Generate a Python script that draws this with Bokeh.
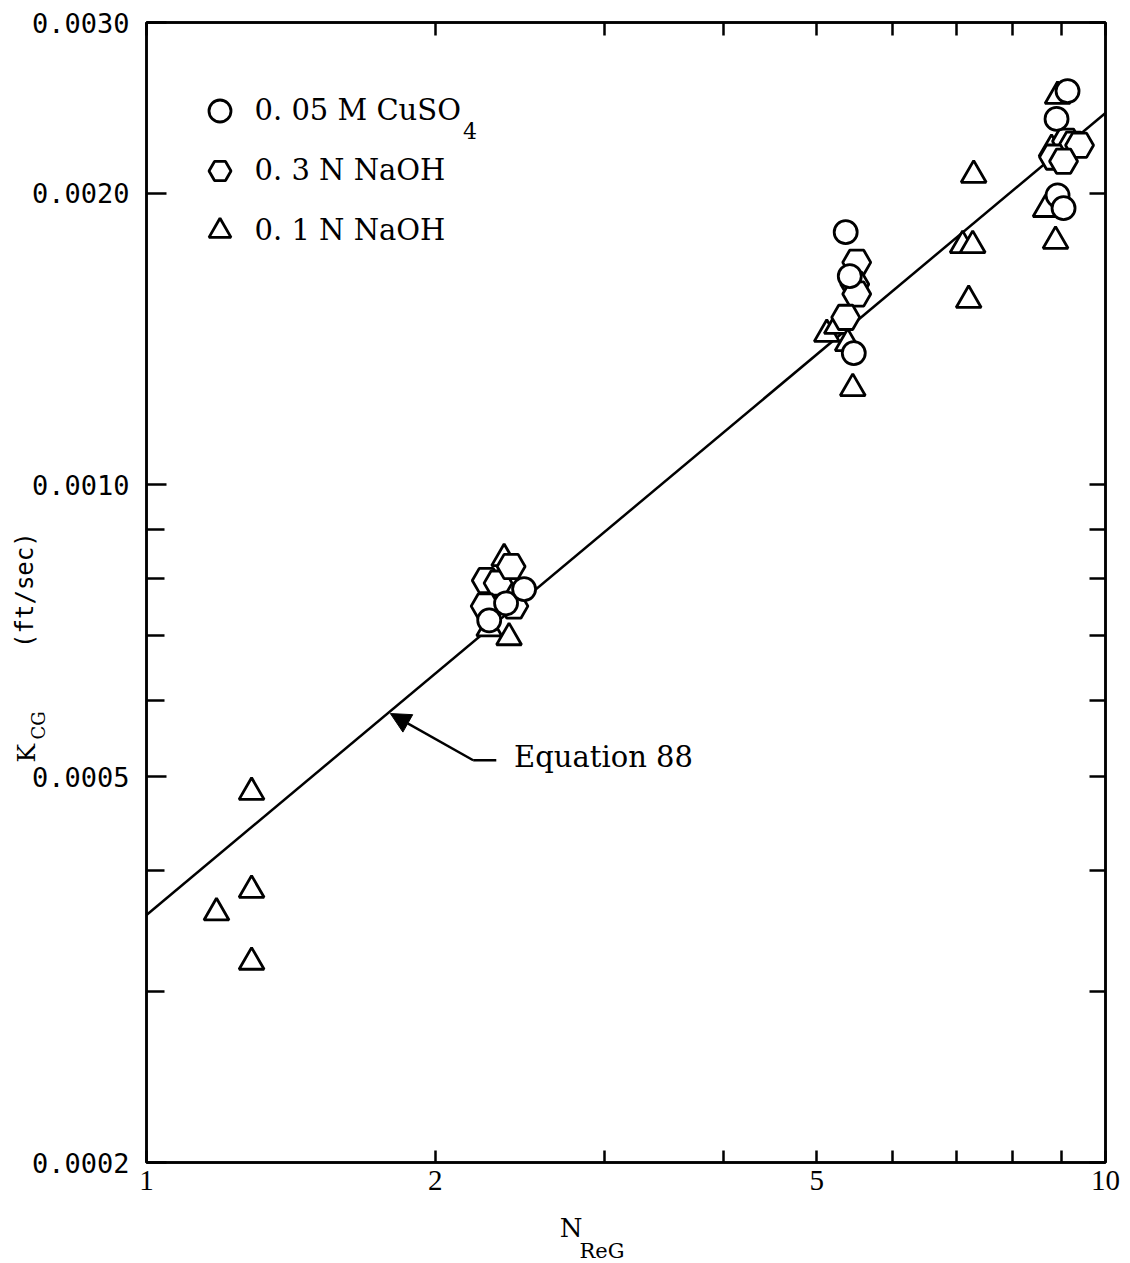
import math
from bokeh.plotting import figure
from bokeh.models import (FixedTicker, PrintfTickFormatter, LogAxis, CustomJSTickFormatter,
                          Label, Arrow, NormalHead, Legend, LegendItem, Range1d)
from bokeh.embed import file_html
from bokeh.resources import INLINE

# ---------------- data ----------------
# 0.05 M CuSO4 (circles)
cuso4_x = [2.277, 2.371, 2.476, 5.359, 5.412, 5.464, 8.891, 9.129, 8.913, 9.042]
cuso4_y = [0.000725, 0.000755, 0.000781, 0.001823, 0.001642, 0.001368,
           0.002386, 0.002549, 0.001990, 0.001930]

# 0.3 N NaOH (hexagons)
naoh03_x = [2.261, 2.326, 2.255, 2.416, 2.400, 5.503, 5.477, 5.503, 5.359,
            9.107, 9.262, 9.396, 8.827, 9.042]
naoh03_y = [0.000797, 0.000792, 0.000750, 0.000750, 0.000824, 0.001697, 0.001611,
            0.001574, 0.001489, 0.002263, 0.002247, 0.002241, 0.002179, 0.002158]

# 0.1 N NaOH (triangles)
naoh01_x = [1.183, 1.287, 1.287, 1.287, 2.360, 2.277, 2.388, 5.121, 5.246, 5.385,
            5.451, 7.287, 7.096, 7.270, 7.200, 8.913, 8.785, 8.660, 8.870]
naoh01_y = [0.000362, 0.000482, 0.000382, 0.000322, 0.000840, 0.000711, 0.000696,
            0.001431, 0.001458, 0.001400, 0.001258, 0.002088, 0.001767, 0.001767,
            0.001551, 0.002518, 0.002221, 0.001925, 0.001785]

# Equation 88 (fitted line)
eq88_x = [1.0, 10.0]
eq88_y = [0.000360, 0.00242]

# ticks
x_ticks = [1, 2, 5, 10]
x_minor = [3, 4, 6, 7, 8, 9]
y_ticks = [0.0002, 0.0005, 0.0010, 0.0020, 0.0030]
y_minor = [0.0003, 0.0004, 0.0006, 0.0007, 0.0008, 0.0009]

legend_labels = ["0. 05 M CuSO", "0. 3 N NaOH", "0. 1 N NaOH"]

# ---------------- figure ----------------
p = figure(width=1130, height=1263, x_axis_type="log", y_axis_type="log",
           x_range=Range1d(1, 10), y_range=Range1d(0.0002, 0.003),
           output_backend="svg", toolbar_location=None,
           min_border_left=145, min_border_right=25, min_border_top=22,
           min_border_bottom=101)
p.grid.visible = False
p.outline_line_color = "black"
p.outline_line_width = 2.5
p.background_fill_color = "white"
p.border_fill_color = "white"

serif = "DejaVu Serif"

def style_axis(ax, tick_in, minor_in, labels=True):
    ax.axis_line_color = "black"
    ax.axis_line_width = 2.5
    ax.major_tick_line_color = "black"
    ax.major_tick_line_width = 2.5
    ax.minor_tick_line_color = "black"
    ax.minor_tick_line_width = 2.5
    ax.major_tick_in = tick_in
    ax.major_tick_out = 0
    ax.minor_tick_in = minor_in
    ax.minor_tick_out = 0
    if not labels:
        ax.formatter = CustomJSTickFormatter(code="return ''")
        ax.major_label_text_font_size = "1px"
        ax.major_label_standoff = 0

xax = p.xaxis[0]
xax.ticker = FixedTicker(ticks=x_ticks, minor_ticks=x_minor)
xax.formatter = PrintfTickFormatter(format="%d")
style_axis(xax, 12, 12)
xax.major_label_text_font = "Liberation Serif"
xax.major_label_text_font_size = "29px"
xax.major_label_text_color = "black"
xax.major_label_standoff = 8

yax = p.yaxis[0]
yax.ticker = FixedTicker(ticks=y_ticks, minor_ticks=y_minor)
yax.formatter = PrintfTickFormatter(format="%.4f")
style_axis(yax, 20, 18)
yax.major_label_text_font = "DejaVu Sans Mono"
yax.major_label_text_font_size = "27px"
yax.major_label_text_color = "black"
yax.major_label_standoff = 17

top = LogAxis(ticker=FixedTicker(ticks=x_ticks, minor_ticks=x_minor))
style_axis(top, 13, 13, labels=False)
p.add_layout(top, "above")

right = LogAxis(ticker=FixedTicker(ticks=y_ticks, minor_ticks=y_minor))
style_axis(right, 16, 16, labels=False)
p.add_layout(right, "right")

# ---------------- glyphs ----------------
p.line(eq88_x, eq88_y, line_color="black", line_width=2.5)

mk = dict(fill_color="white", line_color="black", line_width=2.8)
r_tri = p.scatter(naoh01_x, naoh01_y, marker="triangle", size=25, **mk)
r_hex = p.scatter(naoh03_x, naoh03_y, marker="hex", size=28, **mk)
r_cir = p.scatter(cuso4_x, cuso4_y, marker="circle", size=23, **mk)

legend = Legend(items=[LegendItem(label=legend_labels[0], renderers=[r_cir]),
                       LegendItem(label=legend_labels[1], renderers=[r_hex]),
                       LegendItem(label=legend_labels[2], renderers=[r_tri])],
                location=(45.5, 904.5), glyph_width=55, glyph_height=55,
                label_standoff=8, spacing=5, padding=0, margin=0,
                border_line_color=None, background_fill_alpha=0,
                label_text_font=serif, label_text_font_size="29px",
                label_text_color="black", label_height=55)
p.add_layout(legend)

# subscript of CuSO4
p.add_layout(Label(x=2.175, y=0.002318, text="4", text_font=serif,
                   text_font_size="22px", text_align="center",
                   text_baseline="middle", text_color="black"))

# ---------------- Equation 88 annotation ----------------
arrow_start = (2.191, 0.000520)
arrow_tip = (1.796, 0.000581)
leader_end = (2.316, 0.000520)
p.add_layout(Arrow(end=NormalHead(size=20, fill_color="black", line_color="black"),
                   x_start=arrow_start[0], y_start=arrow_start[1],
                   x_end=arrow_tip[0], y_end=arrow_tip[1],
                   line_color="black", line_width=2.5))
p.add_layout(Arrow(end=None, x_start=arrow_start[0], y_start=arrow_start[1],
                   x_end=leader_end[0], y_end=leader_end[1],
                   line_color="black", line_width=2.5))
p.add_layout(Label(x=2.417, y=0.000524, text="Equation 88", text_font=serif,
                   text_font_size="29px", text_align="left",
                   text_baseline="middle", text_color="black"))

# ---------------- axis titles (side panels so they are not clipped) ----------------
def title_label(x, y, text, font, size, angle=0.0):
    return Label(x=x, y=y, text=text, text_font=font, text_font_size=size,
                 angle=angle, text_align="center", text_baseline="middle",
                 text_color="black")

p.add_layout(title_label(0.7499, 0.0005287, "K", serif, "25px", math.pi / 2), "above")
p.add_layout(title_label(0.7721, 0.000565, "CG", serif, "18px", math.pi / 2), "right")
p.add_layout(title_label(0.7463, 0.000779, "(ft/sec)", "DejaVu Sans Mono", "24px",
                         math.pi / 2), "left")
p.add_layout(title_label(2.772, 0.000171, "N", serif, "26px"), "below")
p.add_layout(title_label(2.985, 0.0001619, "ReG", serif, "21px"), "below")

open("out.html", "w").write(file_html(p, INLINE))
